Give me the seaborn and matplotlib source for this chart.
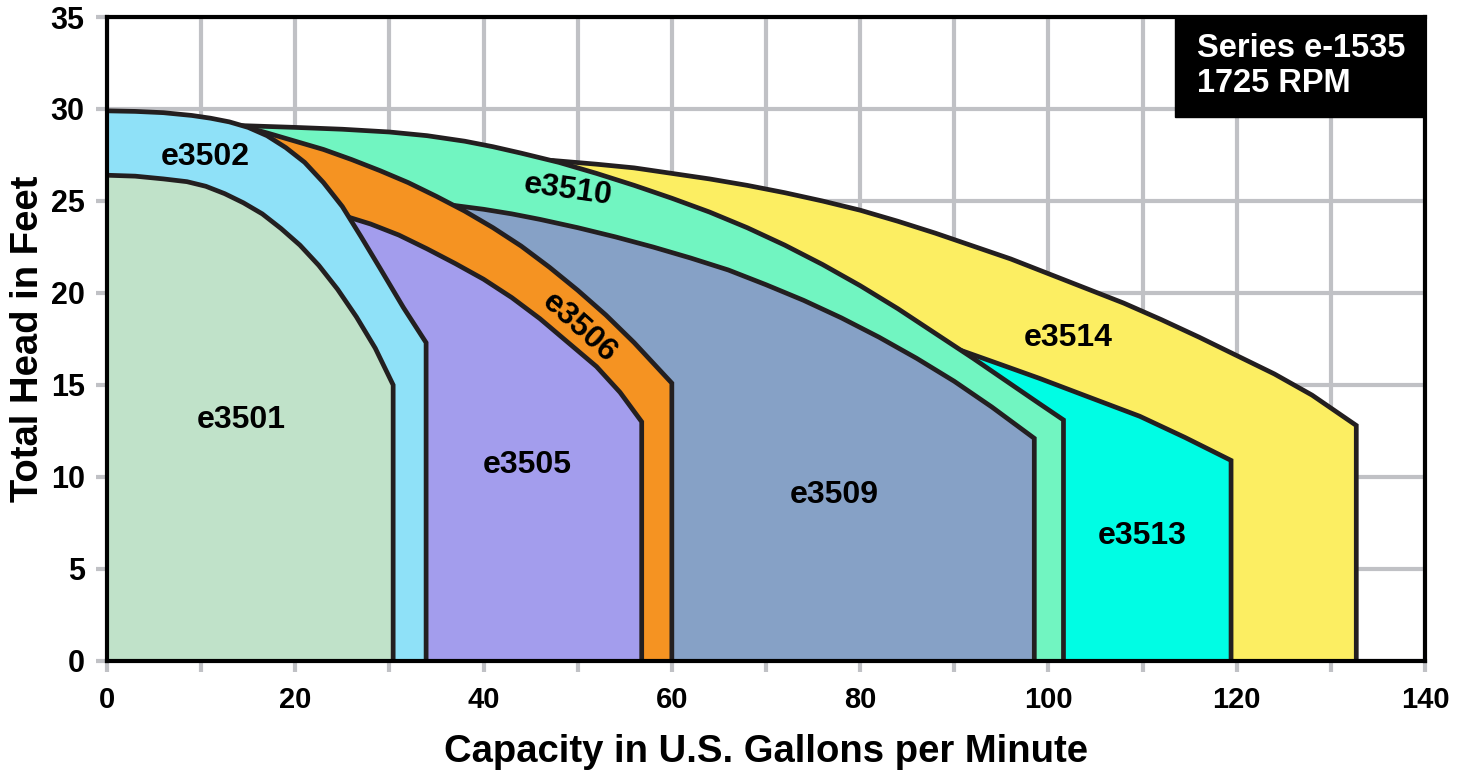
import matplotlib
matplotlib.use("Agg")
import matplotlib.pyplot as plt
from matplotlib import font_manager
from matplotlib.patches import Rectangle
import pandas as pd
import seaborn as sns

# head-capacity curves (gpm, feet); each ends at its max capacity
e3501_x = [0, 3, 6, 8.5, 10.5, 12.5, 14.5, 16.5, 18.5, 20.5, 22.5, 24.5, 26.5, 28.5, 30.4]
e3501_y = [26.4, 26.35, 26.2, 26.05, 25.8, 25.4, 24.9, 24.3, 23.5, 22.6, 21.5, 20.2, 18.7, 17.0, 15.0]

e3502_x = [0, 3, 6, 9, 11, 13, 15, 17, 19, 21, 23, 25, 27, 29, 31.5, 33.9]
e3502_y = [29.9, 29.87, 29.8, 29.65, 29.5, 29.3, 29.0, 28.55, 27.9, 27.1, 26.0, 24.7, 23.05, 21.35, 19.2, 17.3]

e3505_x = [0, 25.8, 28, 31, 34, 37, 40, 43, 46, 49, 52, 54.5, 56.8]
e3505_y = [24.0, 24.1, 23.75, 23.15, 22.4, 21.6, 20.75, 19.75, 18.6, 17.3, 16.0, 14.6, 13.0]

e3506_x = [0, 14.5, 17, 20, 23, 26, 29, 32, 35, 38, 41, 44, 47, 50, 53, 56, 58, 60]
e3506_y = [28.6, 29.05, 28.7, 28.25, 27.8, 27.25, 26.65, 26.0, 25.25, 24.45, 23.55, 22.55,
           21.4, 20.15, 18.8, 17.3, 16.2, 15.1]

e3509_x = [0, 37, 40, 43, 46, 50, 54, 58, 62, 66, 70, 74, 78, 82, 86, 90, 94, 98.5]
e3509_y = [24.5, 24.75, 24.55, 24.3, 24.0, 23.55, 23.05, 22.5, 21.9, 21.25, 20.45, 19.6,
           18.65, 17.6, 16.45, 15.2, 13.8, 12.1]

e3510_x = [0, 14.1, 20, 25, 30, 34, 38, 41, 44, 48, 52, 56, 60, 64, 68, 72, 76, 80, 84, 88,
           92, 96, 99, 101.6]
e3510_y = [29.3, 29.1, 29.0, 28.9, 28.75, 28.55, 28.25, 27.95, 27.6, 27.1, 26.5, 25.85, 25.15,
           24.4, 23.55, 22.6, 21.55, 20.4, 19.15, 17.8, 16.45, 15.05, 14.0, 13.1]

e3513_x = [0, 90.6, 95, 99.1, 104, 109.7, 114.5, 119.4]
e3513_y = [16.5, 16.9, 16.1, 15.35, 14.4, 13.3, 12.15, 10.9]

e3514_x = [0, 47.4, 52, 56, 60, 64, 68, 72, 76, 80, 84, 88, 92, 96, 100, 104, 108, 112, 116,
           120, 124, 128, 132.7]
e3514_y = [27.0, 27.2, 27.0, 26.8, 26.5, 26.2, 25.85, 25.45, 25.0, 24.5, 23.9, 23.25, 22.55,
           21.85, 21.05, 20.25, 19.45, 18.55, 17.6, 16.6, 15.6, 14.45, 12.8]

models = ["e3514", "e3513", "e3510", "e3509", "e3506", "e3505", "e3502", "e3501"]
curves = {
    "e3501": (e3501_x, e3501_y), "e3502": (e3502_x, e3502_y),
    "e3505": (e3505_x, e3505_y), "e3506": (e3506_x, e3506_y),
    "e3509": (e3509_x, e3509_y), "e3510": (e3510_x, e3510_y),
    "e3513": (e3513_x, e3513_y), "e3514": (e3514_x, e3514_y),
}
colors = {
    "e3501": "#c0e2c9", "e3502": "#8fe1f8", "e3505": "#a39ded", "e3506": "#f59322",
    "e3509": "#86a1c6", "e3510": "#71f5c1", "e3513": "#00fde4", "e3514": "#fcee62",
}
# label anchor (x, y) and rotation
label_pos = {
    "e3501": (14.3, 13.1, 0), "e3502": (10.4, 27.4, 0), "e3505": (44.6, 10.65, 0),
    "e3506": (50.2, 18.1, -42), "e3509": (77.3, 9.0, 0), "e3510": (49.0, 25.6, -8),
    "e3513": (110.0, 6.8, 0), "e3514": (102.1, 17.55, 0),
}

sns.set_theme(style="white")
avail = {f.name for f in font_manager.fontManager.ttflist}
base_font = "Liberation Sans" if "Liberation Sans" in avail else "DejaVu Sans"
plt.rcParams["font.family"] = [base_font, "DejaVu Sans"]
plt.rcParams["text.color"] = "black"
plt.rcParams["axes.labelcolor"] = "black"

ink = "#231f20"
grid_c = "#c0c1c5"

fig = plt.figure(figsize=(14.65, 7.8), dpi=100)
ax = fig.add_axes([0.0730, 0.1526, 0.8997, 0.8256])

for i, name in enumerate(models):
    xs, ys = curves[name]
    z = 3 + i
    ax.fill_between(xs, ys, 0, color=colors[name], linewidth=0, zorder=z)
    outline = pd.DataFrame({"gpm": list(xs) + [xs[-1]], "head": list(ys) + [0]})
    sns.lineplot(data=outline, x="gpm", y="head", sort=False, estimator=None,
                 color=ink, linewidth=3.4, solid_joinstyle="miter", ax=ax, zorder=z + 0.5)

for name, (lx, ly, rot) in label_pos.items():
    ax.text(lx, ly, name, ha="center", va="center", rotation=rot, fontsize=23,
            fontweight="bold", color="black", zorder=20)

# series box in the top right corner
ax.add_patch(Rectangle((113.45, 29.57), 140 - 113.45, 35 - 29.57, facecolor="black",
                       edgecolor="black", zorder=21, clip_on=False))
ax.text(115.8, 32.35, "Series e-1535\n1725 RPM", ha="left", va="center", color="white",
        fontsize=23.5, fontweight="bold", linespacing=1.15, zorder=22)

ax.set_xlim(0, 140)
ax.set_ylim(0, 35)
ax.set_xticks(range(0, 141, 20))
ax.set_xticks(range(10, 140, 20), minor=True)
ax.set_yticks(range(0, 36, 5))
ax.set_xticklabels([str(v) for v in range(0, 141, 20)], fontsize=21, fontweight="bold")
ax.set_yticklabels([str(v) for v in range(0, 36, 5)], fontsize=22, fontweight="bold")
ax.grid(True, which="both", color=grid_c, linewidth=3)
ax.set_axisbelow(True)
ax.tick_params(axis="both", which="both", color=grid_c, labelcolor="black", width=3, length=8,
               bottom=True, left=True)
ax.tick_params(axis="x", pad=10)
ax.tick_params(axis="y", pad=8)
for sp in ax.spines.values():
    sp.set_color("black")
    sp.set_linewidth(3)
    sp.set_zorder(30)

ax.set_xlabel("Capacity in U.S. Gallons per Minute", fontsize=27.5, fontweight="bold")
ax.set_ylabel("Total Head in Feet", fontsize=27.5, fontweight="bold")
ax.xaxis.set_label_coords(0.5, -0.113)
ax.yaxis.set_label_coords(-0.046, 0.5)

fig.savefig("out.png", dpi=100)
